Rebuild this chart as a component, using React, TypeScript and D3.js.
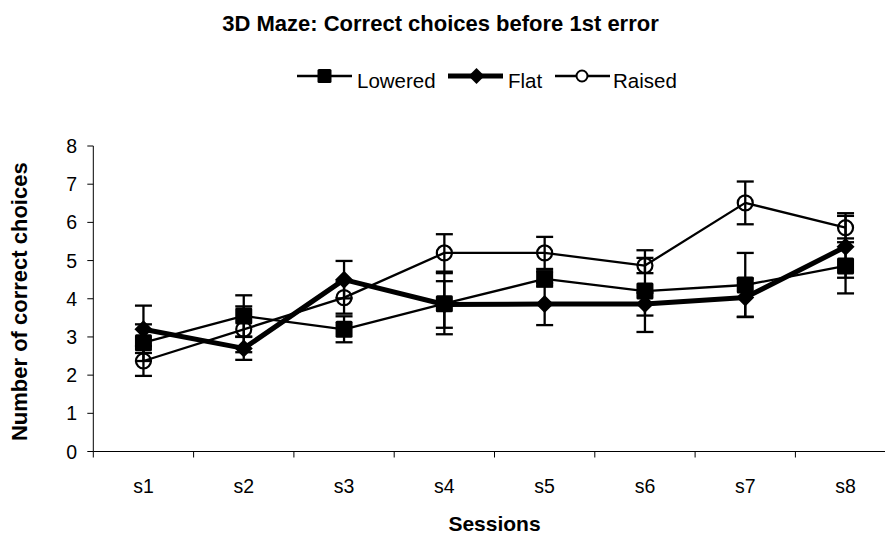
import React from "react";
import * as d3 from "d3";

const categories = ["s1", "s2", "s3", "s4", "s5", "s6", "s7", "s8"];
const yTicks = [0, 1, 2, 3, 4, 5, 6, 7, 8];

const lowered = [2.85, 3.55, 3.2, 3.87, 4.52, 4.2, 4.36, 4.86];
const loweredErr = [0.48, 0.54, 0.34, 0.8, 0.2, 1.07, 0.84, 0.72];
const flat = [3.2, 2.7, 4.5, 3.85, 3.86, 3.86, 4.03, 5.36];
const flatErr = [0.62, 0.3, 0.49, 0.61, 0.55, 0.3, 0.5, 0.81];
const raised = [2.37, 3.2, 4.03, 5.2, 5.2, 4.87, 6.51, 5.86];
const raisedErr = [0.39, 0.6, 0.42, 0.49, 0.42, 0.2, 0.56, 0.38];

const seriesNames = ["Lowered", "Flat", "Raised"];

const W = 885;
const H = 535;
const FONT = "'Liberation Sans', Arial, sans-serif";

type Marker = "square" | "diamond" | "circle";

const series: { name: string; values: number[]; err: number[]; width: number; marker: Marker }[] = [
  { name: seriesNames[0], values: lowered, err: loweredErr, width: 2.3, marker: "square" },
  { name: seriesNames[1], values: flat, err: flatErr, width: 5, marker: "diamond" },
  { name: seriesNames[2], values: raised, err: raisedErr, width: 2.3, marker: "circle" },
];

function MarkerShape({ type, cx, cy, s }: { type: Marker; cx: number; cy: number; s: number }) {
  if (type === "square") {
    return <rect x={cx - s / 2} y={cy - s / 2} width={s} height={s} rx={1.5} fill="#000" />;
  }
  if (type === "diamond") {
    const h = s / 2 + 0.5;
    return (
      <path
        d={`M${cx},${cy - h}L${cx + h},${cy}L${cx},${cy + h}L${cx - h},${cy}Z`}
        fill="#000"
      />
    );
  }
  return <circle cx={cx} cy={cy} r={s / 2 - 1} fill="none" stroke="#000" strokeWidth={2.2} />;
}

export default function App() {
  const x = d3.scaleBand<string>().domain(categories).range([93.3, 895.7]).padding(0);
  const y = d3.scaleLinear().domain([0, 8]).range([451.5, 146]);
  const cx = (c: string) => (x(c) as number) + x.bandwidth() / 2;
  const x0 = 93.3;

  const line = d3
    .line<number>()
    .x((_, i) => cx(categories[i]))
    .y((d) => y(d));

  const capW = 17;

  const legendItems = [
    { x1: 297, x2: 352, mx: 324.5, tx: 357, idx: 0, ms: 14 },
    { x1: 448, x2: 503, mx: 476.5, tx: 508, idx: 1, ms: 15 },
    { x1: 555, x2: 610, mx: 582, tx: 613, idx: 2, ms: 13 },
  ];

  return (
    <svg
      width={W}
      height={H}
      style={{ position: "absolute", left: 0, top: 0, background: "#fff" }}
      fontFamily={FONT}
    >
      <rect x={0} y={0} width={W} height={H} fill="#fff" />
      {/* Title */}
      <text x={440.5} y={31} textAnchor="middle" fontSize={22} fontWeight="bold" fill="#000">
        3D Maze: Correct choices before 1st error
      </text>

      {/* Legend */}
      {legendItems.map((l) => {
        const s = series[l.idx];
        return (
          <g key={s.name}>
            <line x1={l.x1} x2={l.x2} y1={76} y2={76} stroke="#000" strokeWidth={s.marker === "diamond" ? 5 : 2.5} />
            {s.marker === "circle" ? (
              <circle cx={l.mx} cy={76} r={5.5} fill="#fff" stroke="#000" strokeWidth={2} />
            ) : (
              <MarkerShape type={s.marker} cx={l.mx} cy={76} s={l.ms} />
            )}
            <text x={l.tx} y={88} fontSize={20.5} fill="#000">
              {s.name}
            </text>
          </g>
        );
      })}

      {/* Y axis */}
      <line x1={x0} x2={x0} y1={y(8)} y2={y(0)} stroke="#000" strokeWidth={1} />
      {yTicks.map((t) => (
        <g key={t}>
          <line x1={x0 - 6} x2={x0} y1={y(t)} y2={y(t)} stroke="#000" strokeWidth={1} />
          <text x={77} y={y(t) + 7} textAnchor="end" fontSize={19.5} fill="#000">
            {t}
          </text>
        </g>
      ))}

      {/* X axis */}
      <line x1={x0} x2={W} y1={y(0)} y2={y(0)} stroke="#000" strokeWidth={1} />
      {categories.map((c) => (
        <g key={c}>
          <line
            x1={x(c) as number}
            x2={x(c) as number}
            y1={y(0)}
            y2={y(0) + 6}
            stroke="#000"
            strokeWidth={1}
          />
          <text x={cx(c)} y={492.5} textAnchor="middle" fontSize={19.5} fill="#000">
            {c}
          </text>
        </g>
      ))}

      {/* Axis titles */}
      <text x={494.5} y={531} textAnchor="middle" fontSize={21} fontWeight="bold" fill="#000">
        Sessions
      </text>
      <text
        transform={`translate(26.7, 301.7) rotate(-90)`}
        textAnchor="middle"
        fontSize={22}
        fontWeight="bold"
        fill="#000"
      >
        Number of correct choices
      </text>

      {/* Series */}
      {series.map((s) => (
        <g key={s.name}>
          <path d={line(s.values) || ""} fill="none" stroke="#000" strokeWidth={s.width} strokeLinejoin="round" />
          {s.values.map((v, i) => {
            const px = cx(categories[i]);
            const top = y(v + s.err[i]);
            const bot = y(v - s.err[i]);
            return (
              <g key={i}>
                <line x1={px} x2={px} y1={top} y2={bot} stroke="#000" strokeWidth={2.3} />
                <line x1={px - capW / 2} x2={px + capW / 2} y1={top} y2={top} stroke="#000" strokeWidth={2.3} />
                <line x1={px - capW / 2} x2={px + capW / 2} y1={bot} y2={bot} stroke="#000" strokeWidth={2.3} />
              </g>
            );
          })}
        </g>
      ))}
      {series.map((s) => (
        <g key={s.name + "-m"}>
          {s.values.map((v, i) => (
            <MarkerShape key={i} type={s.marker} cx={cx(categories[i])} cy={y(v)} s={17} />
          ))}
        </g>
      ))}
    </svg>
  );
}
